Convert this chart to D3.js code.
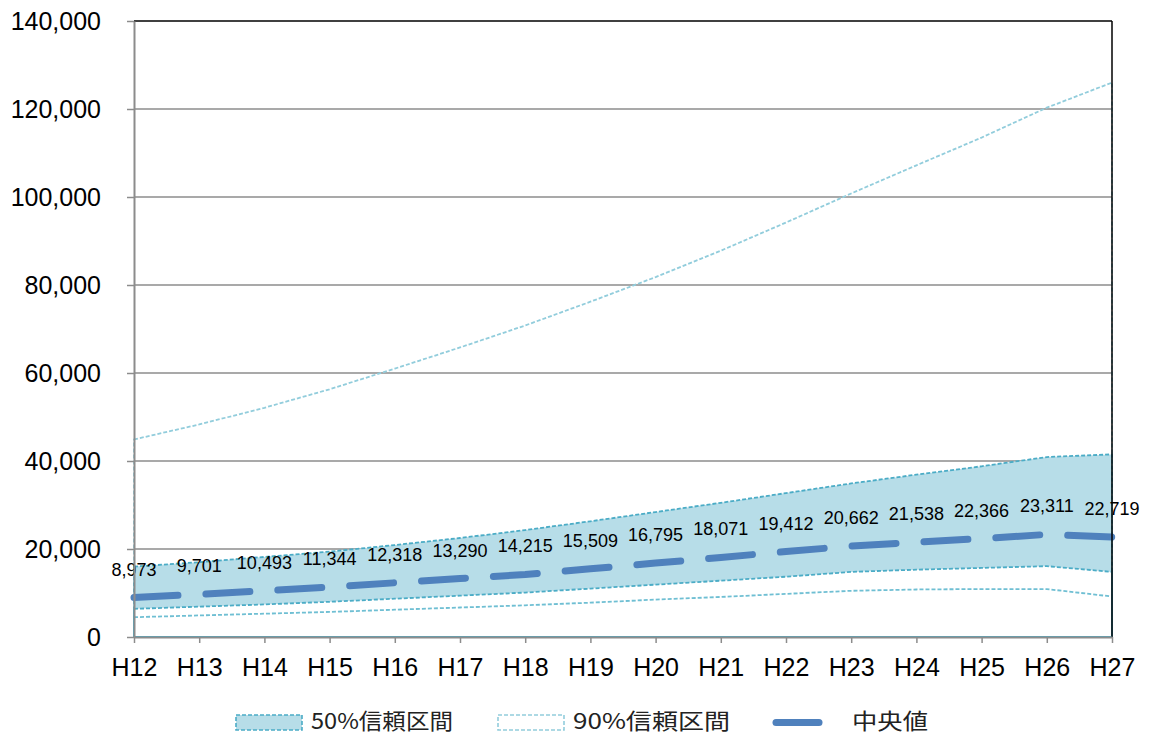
<!DOCTYPE html>
<html>
<head>
<meta charset="utf-8">
<script src="https://cdn.jsdelivr.net/npm/d3@7"></script>
<style>
  body { margin: 0; background: #fff; }
  svg { display: block; font-family: Arial, "Liberation Sans", sans-serif; }
</style>
</head>
<body>
<svg id="chart" width="1149" height="735"></svg>
<script>
// data
const years = ['H12', 'H13', 'H14', 'H15', 'H16', 'H17', 'H18', 'H19', 'H20', 'H21', 'H22', 'H23', 'H24', 'H25', 'H26', 'H27'];
const median = [8973, 9701, 10493, 11344, 12318, 13290, 14215, 15509, 16795, 18071, 19412, 20662, 21538, 22366, 23311, 22719];
const upper50 = [16000, 17000, 18200, 19400, 20900, 22500, 24300, 26300, 28400, 30500, 32700, 34900, 36900, 38800, 40900, 41500];
const lower50 = [6400, 6900, 7400, 8000, 8700, 9400, 10100, 11000, 11900, 12800, 13700, 14800, 15300, 15700, 16100, 14800];
const upper90 = [44900, 48300, 52100, 56300, 61000, 65800, 70800, 76200, 81800, 87800, 94200, 100800, 107200, 113500, 120300, 126000];
const lower90 = [4500, 4900, 5300, 5700, 6200, 6700, 7200, 7800, 8500, 9100, 9800, 10500, 10800, 10900, 10900, 9200];
const yTicks = [0, 20000, 40000, 60000, 80000, 100000, 120000, 140000];

const svg = d3.select('#chart');
const m = { left: 134, right: 1112, top: 21, bottom: 637 };

const x = d3.scalePoint().domain(years).range([m.left, m.right]);
const y = d3.scaleLinear().domain([0, 140000]).range([m.bottom, m.top]);

// gridlines
svg.append('g')
    .selectAll('line')
    .data(yTicks.slice(1, -1))
    .join('line')
    .attr('x1', m.left).attr('x2', m.right)
    .attr('y1', d => y(d)).attr('y2', d => y(d))
    .attr('stroke', '#8c8c8c')
    .attr('stroke-width', 1.5);

// 50% band (filled)
const band = d3.area()
    .x((d, i) => x(years[i]))
    .y0((d, i) => y(lower50[i]))
    .y1(d => y(d));
svg.append('path')
    .datum(upper50)
    .attr('d', band)
    .attr('fill', '#b7dde8');

// dashed outlines of the bands, each down to zero like excel area borders
function outline(vals) {
    const pts = vals.map((v, i) => [x(years[i]), y(v)]);
    pts.push([m.right, y(0)], [m.left, y(0)]);
    return d3.line()(pts) + 'Z';
}
const dashed = [
    { vals: upper90, color: '#92cddc' },
    { vals: lower90, color: '#6fbfd3' },
    { vals: upper50, color: '#4bacc6' },
    { vals: lower50, color: '#4bacc6' }
];
svg.append('g')
    .selectAll('path')
    .data(dashed)
    .join('path')
    .attr('d', d => outline(d.vals))
    .attr('fill', 'none')
    .attr('stroke', d => d.color)
    .attr('stroke-width', 1.8)
    .attr('stroke-dasharray', '4 2');

// median line
const medLine = d3.line()
    .x((d, i) => x(years[i]))
    .y(d => y(d));
svg.append('path')
    .datum(median)
    .attr('d', medLine)
    .attr('fill', 'none')
    .attr('stroke', '#4f81bd')
    .attr('stroke-width', 7)
    .attr('stroke-linecap', 'round')
    .attr('stroke-dasharray', '44 28');

// median labels
svg.append('g')
    .selectAll('text')
    .data(median)
    .join('text')
    .attr('x', (d, i) => x(years[i]))
    .attr('y', d => y(d) - 22)
    .attr('text-anchor', 'middle')
    .attr('font-size', 18)
    .attr('fill', '#000')
    .text(d => d3.format(',')(d));

// frame: black top and right
svg.append('line')
    .attr('x1', m.left).attr('x2', m.right).attr('y1', m.top).attr('y2', m.top)
    .attr('stroke', '#000').attr('stroke-width', 1.5);
svg.append('line')
    .attr('x1', m.right).attr('x2', m.right).attr('y1', m.top).attr('y2', m.bottom)
    .attr('stroke', '#000').attr('stroke-width', 1.5);

// axes
const yAxis = svg.append('g')
    .attr('transform', `translate(${m.left},0)`)
    .call(d3.axisLeft(y).tickValues(yTicks).tickFormat(d3.format(',')).tickSize(7).tickPadding(26).tickSizeOuter(0));
const xAxis = svg.append('g')
    .attr('transform', `translate(0,${m.bottom})`)
    .call(d3.axisBottom(x).tickSize(6).tickPadding(15).tickSizeOuter(0));

[yAxis, xAxis].forEach(a => {
    a.select('.domain').attr('stroke', '#8c8c8c').attr('stroke-width', 2);
    a.selectAll('.tick line').attr('stroke', '#8c8c8c').attr('stroke-width', 1.5);
    a.selectAll('.tick text')
        .attr('font-size', 25)
        .attr('font-family', 'Arial, "Liberation Sans", sans-serif')
        .attr('fill', '#000');
});

// legend
const lg = svg.append('g').attr('font-family', '"Noto Sans CJK JP", sans-serif').attr('font-size', 22).attr('fill', '#222');
lg.append('rect')
    .attr('x', 236).attr('y', 715).attr('width', 66).attr('height', 15)
    .attr('fill', '#b7dde8').attr('stroke', '#4bacc6').attr('stroke-width', 1.6).attr('stroke-dasharray', '4 2');
lg.append('text').attr('x', 311).attr('y', 729)
    .attr('textLength', 142).attr('lengthAdjust', 'spacingAndGlyphs').text('50%信頼区間');
lg.append('rect')
    .attr('x', 498).attr('y', 715).attr('width', 66).attr('height', 15)
    .attr('fill', 'none').attr('stroke', '#92cddc').attr('stroke-width', 1.6).attr('stroke-dasharray', '4 2');
lg.append('text').attr('x', 573).attr('y', 729)
    .attr('textLength', 157).attr('lengthAdjust', 'spacingAndGlyphs').text('90%信頼区間');
lg.append('line')
    .attr('x1', 776).attr('x2', 819).attr('y1', 722.5).attr('y2', 722.5)
    .attr('stroke', '#4f81bd').attr('stroke-width', 7).attr('stroke-linecap', 'round');
lg.append('text').attr('x', 852).attr('y', 729)
    .attr('textLength', 76).attr('lengthAdjust', 'spacingAndGlyphs').text('中央値');
</script>
</body>
</html>
